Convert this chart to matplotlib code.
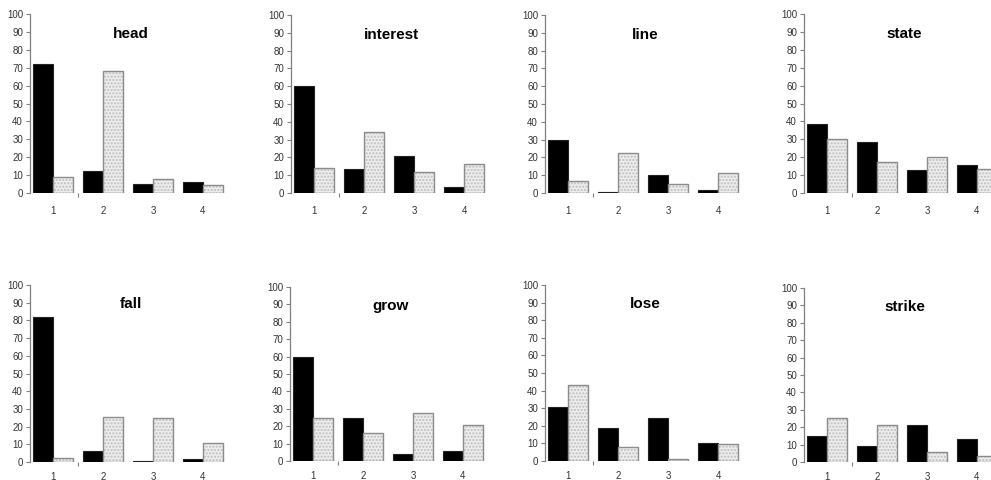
import numpy as np
import matplotlib
matplotlib.use("Agg")
import matplotlib.pyplot as plt

plt.rcParams['font.family'] = ['Liberation Sans Narrow', 'Liberation Sans', 'DejaVu Sans']

# categories and panel names
cats = [1, 2, 3, 4]
words = ["head", "interest", "line", "state", "fall", "grow", "lose", "strike"]

# black bars (first series)
black_vals = [
    [72, 12.5, 5, 6],      # head
    [60, 13.7, 20.6, 3.2], # interest
    [30, 0.6, 10, 1.7],    # line
    [38.4, 28.5, 12.9, 15.7],  # state
    [82, 6.2, 0.8, 1.7],   # fall
    [60, 25, 4.2, 5.8],    # grow
    [30.8, 18.5, 24.5, 10.4],  # lose
    [15, 9.1, 21, 13.1],   # strike
]

# stippled grey bars (second series)
grey_vals = [
    [9, 68, 8, 4.3],
    [14, 34, 12, 16.5],
    [6.6, 22.3, 5.1, 11.5],
    [30.2, 17.2, 20.3, 13.4],
    [2.3, 25.7, 24.6, 10.9],
    [24.8, 16.3, 27.3, 20.8],
    [43.2, 7.9, 1.3, 9.8],
    [25.1, 21, 6, 3.3],
]

W, H = 991, 480
fig = plt.figure(figsize=(W / 100, H / 100), dpi=100)

# pixel layout: left of y-axis, pixel row of 100 and of 0
lefts = [30, 291, 545, 804, 30, 290, 545, 804]
tops = [14, 15, 15, 14, 285, 287, 285, 288]
bottoms = [193, 193, 193, 193, 462, 461, 461, 462]
axw = 200

x = np.array(cats)
bw = 0.4

for i, word in enumerate(words):
    l, t, b = lefts[i], tops[i], bottoms[i]
    ax = fig.add_axes([l / W, 1 - b / H, axw / W, (b - t) / H])
    ax.bar(x - bw / 2, black_vals[i], bw, color='black', edgecolor='#222222', linewidth=0.8)
    # stipple fill then grey outline
    ax.bar(x + bw / 2, grey_vals[i], bw, color='#ededed', edgecolor='#bdbdbd',
           hatch='.....', linewidth=0)
    ax.bar(x + bw / 2, grey_vals[i], bw, fill=False, edgecolor='#8c8c8c', linewidth=1)

    ax.set_xlim(0.54, 4.54)
    ax.set_ylim(0, 100)
    ax.set_yticks(range(0, 101, 10))
    ax.set_xticks(cats)
    ax.set_xticks([1.5], minor=True)
    ax.tick_params(axis='y', length=3, width=0.8, color='#808080', pad=2,
                   labelsize=7, labelcolor='#333333')
    ax.tick_params(axis='x', which='major', length=0, pad=9 if i < 4 else 7,
                   labelsize=7, labelcolor='#333333')
    ax.tick_params(axis='x', which='minor', length=3, width=0.8, color='#808080')
    for s in ['top', 'right', 'bottom']:
        ax.spines[s].set_visible(False)
    ax.spines['left'].set_color('#808080')
    ax.spines['left'].set_linewidth(0.9)
    ax.patch.set_alpha(0)
    ax.text(2.55, 89, word, ha='center', va='center', fontsize=11,
            fontweight='bold', color='black')

fig.savefig("out.png", dpi=100, facecolor='white')
